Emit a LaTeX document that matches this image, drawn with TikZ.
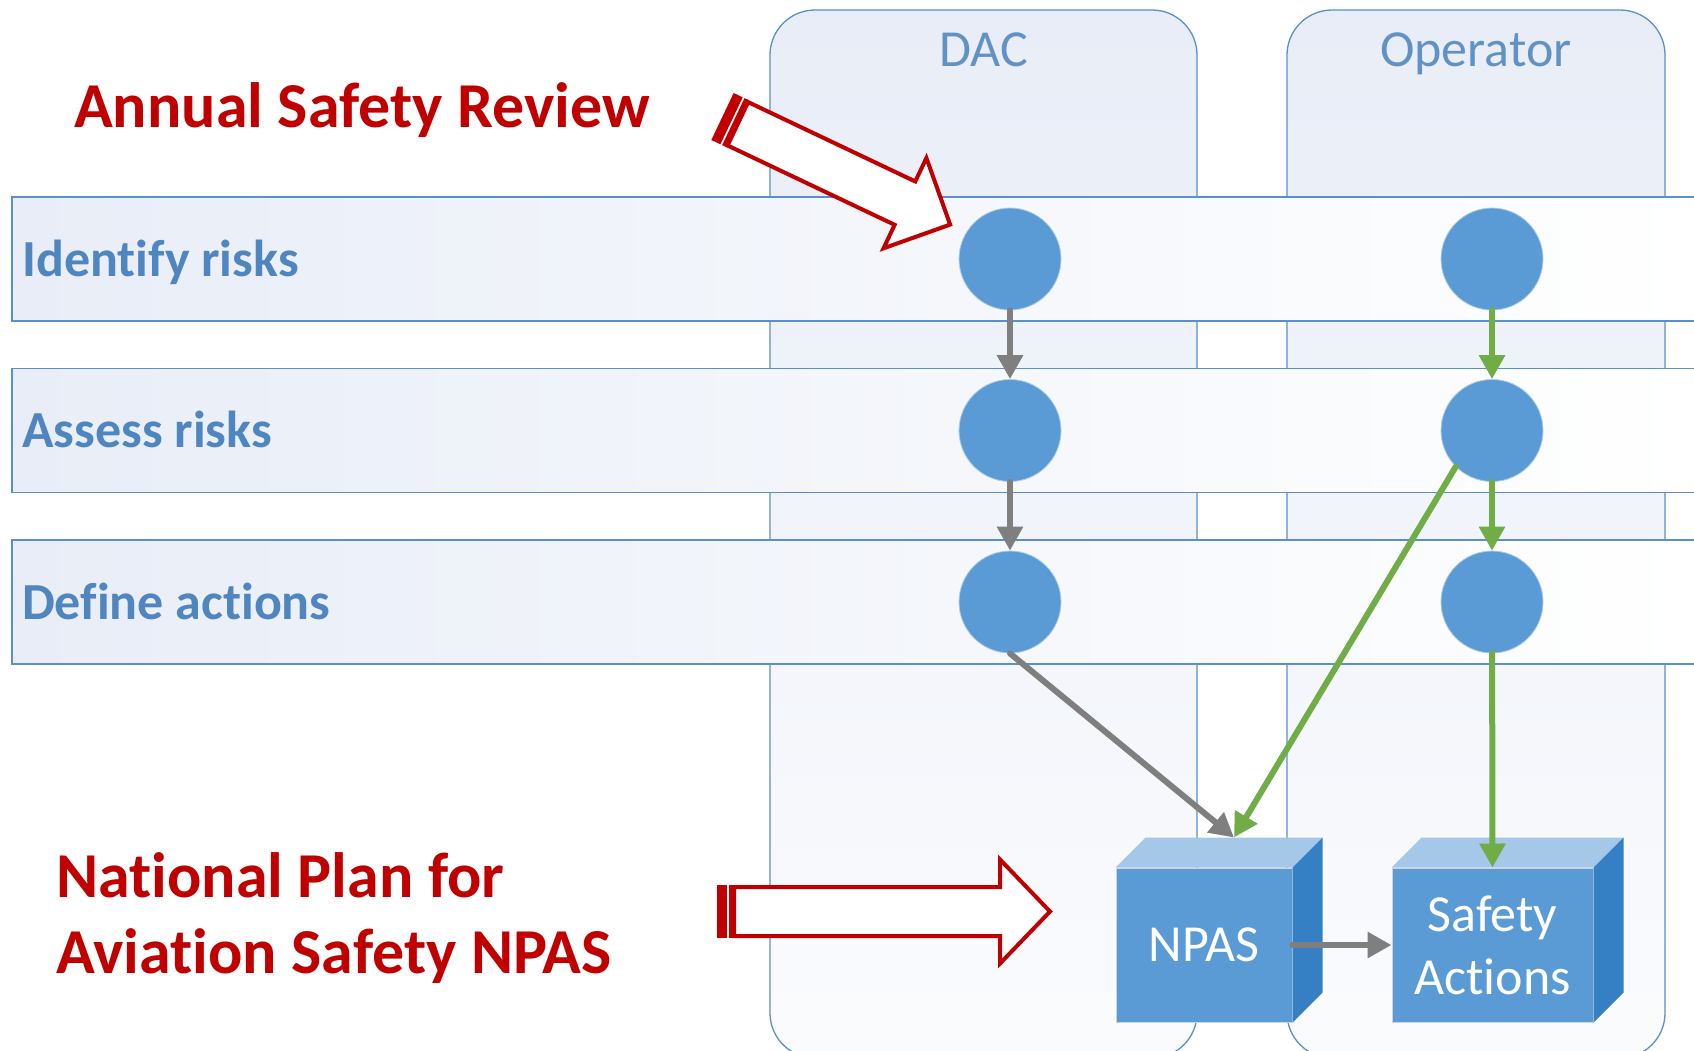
\documentclass[tikz,border=0pt]{standalone}
\usepackage{fontspec}
\setmainfont{Carlito}[Ligatures={NoCommon,NoContextual}]
\usetikzlibrary{arrows.meta,calc}
\definecolor{laneblue}{HTML}{5B8FC8}
\definecolor{labelblue}{HTML}{4F86C0}
\definecolor{dotblue}{HTML}{5B9BD5}
\definecolor{cubetop}{HTML}{A5C7E8}
\definecolor{cubeside}{HTML}{3580C4}
\definecolor{npasred}{HTML}{C00000}
\definecolor{flowgreen}{HTML}{70AD47}
\definecolor{flowgray}{HTML}{7F7F7F}
\definecolor{shadeblue}{HTML}{E8EDF7}
\begin{document}
\begin{tikzpicture}[x=1pt, y=-1pt,
    lane/.style={draw=laneblue, line width=1.3pt, rounded corners=45pt, top color=shadeblue, bottom color=shadeblue!20},
    band/.style={draw=laneblue, line width=1.3pt, left color=shadeblue, middle color=white, right color=white},
    lanehead/.style={font=\fontsize{52}{62}\selectfont, text=labelblue!90!white, anchor=base, inner sep=0pt},
    bandlabel/.style={font=\fontsize{52}{62}\selectfont\bfseries, text=labelblue, anchor=base west, inner sep=0pt},
    riskdot/.style={circle, fill=dotblue, draw=dotblue!50!white, line width=0.8pt, minimum size=102pt, inner sep=0pt},
    grayflow/.style={draw=flowgray, line width=6pt, line cap=round, -{Triangle[width=25pt,length=24pt]}},
    greenflow/.style={grayflow, draw=flowgreen},
    cubefront/.style={fill=dotblue, draw=gray!35, line width=1pt, minimum width=#1, minimum height=154pt, inner sep=0pt, text=white, font=\fontsize{52}{63}\selectfont, align=center},
    redtitle/.style={font=\fontsize{64}{77}\selectfont\bfseries, text=npasred, anchor=base west, inner sep=0pt},
    blockarrow/.style={draw=npasred, line width=4pt, fill=white, line join=miter},
  ]
  \useasboundingbox (0,0) rectangle (1694,1050);
  \clip (0,0) rectangle (1694,1050);
  % Lanes
  \shade[lane] (770,10) rectangle (1197,1058);
  \shade[lane] (1287,10) rectangle (1665,1058);
  \node[lanehead] (dac) at (983.5,66) {DAC};
  \node[lanehead] (opr) at (1476,66) {Operator};
  % Process bands
  \foreach \y/\txt/\nm in {259/Identify risks/identify, 430.5/Assess risks/assess, 602/Define actions/define} {
    \shade[band] (12,\y-62) rectangle (1700,\y+62);
    \node[bandlabel] (\nm) at (22,\y+17) {\txt};
  }
  % Steps
  \foreach \y [count=\i] in {259,430.5,602} {
    \node[riskdot] (d\i) at (1010,\y) {};
    \node[riskdot] (o\i) at (1492,\y) {};
  }
  % Cubes
  \node[cubefront=176pt] (npas) at (1204,945) {NPAS};
  \node[cubefront=201pt] (sact) at (1492.5,945) {Safety\\Actions};
  \foreach \c in {npas,sact} {
    \fill[cubetop] (\c.north west) -- ($(\c.north west)+(30,-30)$) -- ($(\c.north east)+(30,-30)$) -- (\c.north east) -- cycle;
    \fill[cubeside] (\c.north east) -- ($(\c.north east)+(30,-30)$) -- ($(\c.south east)+(30,-30)$) -- (\c.south east) -- cycle;
  }
  \coordinate (npasback) at ($(npas.north)+(30,-30)$);
  % Flows
  \draw[grayflow] (d1) -- (d2);
  \draw[grayflow] (d2) -- (d3);
  \draw[grayflow] (d3.south) -- (npasback);
  \draw[greenflow] (o1) -- (o2);
  \draw[greenflow] (o2) -- (o3);
  \draw[greenflow] (o2.south west) -- (npasback);
  \draw[greenflow] (o3) -- (sact.north);
  \draw[grayflow] (npas.east) -- (sact.west);
  % Review arrow
  \begin{scope}[shift={(722.5,116.5)}, rotate=-25.4]
    \fill[npasred] (0,-26) rectangle (10,26);
    \fill[npasred] (12,-26) rectangle (17,26);
    \draw[blockarrow] (17,-24) -- (202,-24) -- (202,-50) -- (252,0) -- (202,50) -- (202,24) -- (17,24) -- cycle;
  \end{scope}
  % Plan arrow
  \begin{scope}[shift={(717,911.5)}]
    \fill[npasred] (0,-26.5) rectangle (10,26.5);
    \fill[npasred] (12,-26.5) rectangle (17,26.5);
    \draw[blockarrow] (17,-24.5) -- (283,-24.5) -- (283,-52) -- (333,0) -- (283,52) -- (283,24.5) -- (17,24.5) -- cycle;
  \end{scope}
  % Titles
  \node[redtitle] (review) at (74,127) {Annual Safety Review};
  \node[redtitle] (plan1) at (56,897) {National Plan for};
  \node[redtitle] (plan2) at (56,973) {Aviation Safety NPAS};
\end{tikzpicture}
\end{document}
